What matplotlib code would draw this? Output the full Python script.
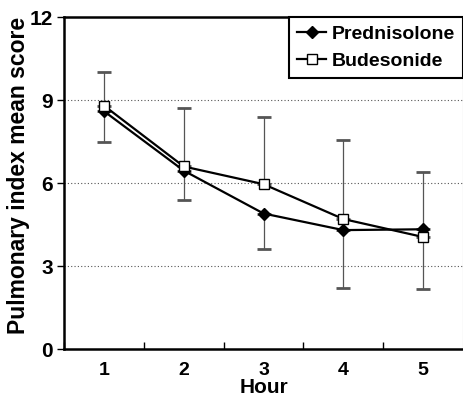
import matplotlib
matplotlib.use("Agg")
import matplotlib.pyplot as plt

hours = [1, 2, 3, 4, 5]
prednisolone = [8.6, 6.45, 4.9, 4.3, 4.33]
budesonide = [8.8, 6.6, 5.96, 4.7, 4.05]
# error bar ends
pred_lower = [7.5, 5.4, 3.6, 2.2, 2.17]
bud_upper = [10.0, 8.7, 8.4, 7.55, 6.4]
yticks = [0, 3, 6, 9, 12]

plt.rcParams["font.family"] = ["Liberation Sans", "DejaVu Sans"]
plt.rcParams["font.weight"] = "bold"

fig = plt.figure(figsize=(4.64, 3.98), dpi=100)
ax = fig.add_axes([0.138, 0.123, 0.860, 0.834])

for y in yticks[1:-1]:
    ax.axhline(y, color="#555555", lw=0.8, ls=(0, (1, 2)), zorder=0)

err_kw = dict(fmt="none", ecolor="#555555", elinewidth=0.9, capsize=4.7,
              capthick=2.0)
ax.errorbar(hours, prednisolone,
            yerr=[[p - l for p, l in zip(prednisolone, pred_lower)],
                  [0] * len(hours)], zorder=1, **err_kw)
ax.errorbar(hours, budesonide,
            yerr=[[0] * len(hours),
                  [u - b for u, b in zip(bud_upper, budesonide)]],
            zorder=1, **err_kw)

ax.plot(hours, prednisolone, color="black", lw=1.6, marker="D", ms=6.5,
        mfc="black", mec="black", label="Prednisolone", zorder=3)
ax.plot(hours, budesonide, color="black", lw=1.6, marker="s", ms=7.5,
        mfc="white", mec="black", mew=1.0, label="Budesonide", zorder=4)

ax.set_xlim(0.5, 5.5)
ax.set_ylim(0, 12)
ax.set_yticks(yticks)
ax.set_xticks(hours)
ax.set_xticks([0.5, 1.5, 2.5, 3.5, 4.5], minor=True)
ax.tick_params(axis="x", which="major", length=0, labelsize=14, pad=9)
ax.tick_params(axis="x", which="minor", length=5, width=1.0, direction="in")
ax.tick_params(axis="y", length=5, width=1.0, labelsize=15, pad=3)

for side in ("left", "bottom", "top"):
    ax.spines[side].set_linewidth(1.8)
ax.spines["right"].set_color("#aaaaaa")
ax.spines["right"].set_linewidth(0.8)

ax.set_xlabel("Hour", fontsize=15, fontweight="bold", va="baseline")
ax.xaxis.set_label_coords(0.5, -0.133)
ax.set_ylabel("Pulmonary index mean score", fontsize=16.5, fontweight="bold",
              va="center")
ax.yaxis.set_label_coords(-0.113, 0.524)

leg = ax.legend(loc="upper right", borderaxespad=0, fontsize=14,
                handlelength=1.5, handletextpad=0.3, fancybox=False,
                framealpha=1, edgecolor="black", borderpad=0.4,
                labelspacing=0.5)
leg.get_frame().set_linewidth(1.5)

fig.savefig("out.png", dpi=100)
